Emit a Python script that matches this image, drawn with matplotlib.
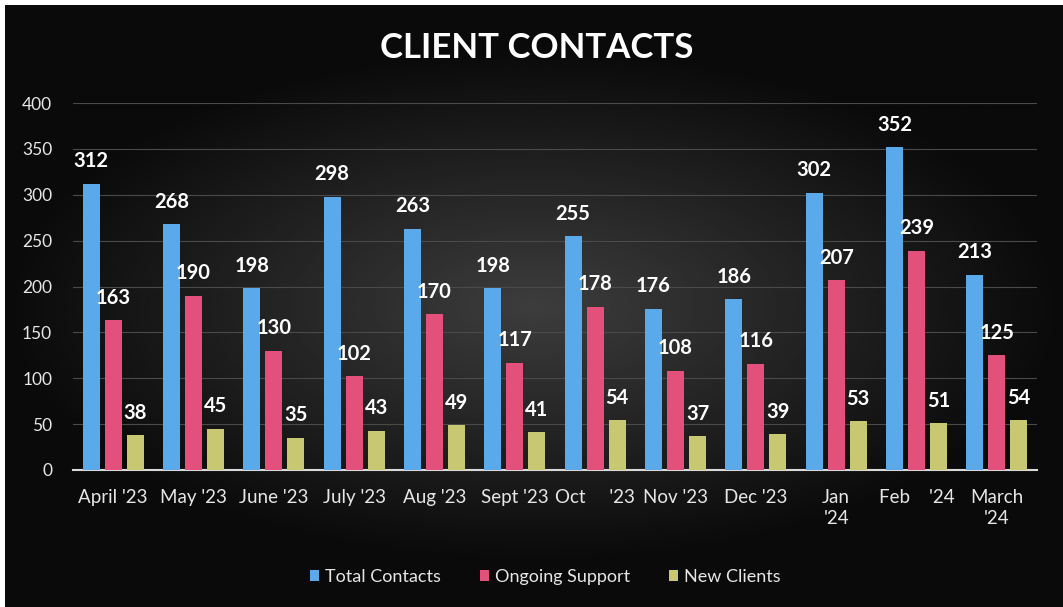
import numpy as np
import matplotlib.pyplot as plt

plt.rcParams['font.family'] = ['Lato', 'DejaVu Sans']

# ---------------------------------------------------
# data
months = ["April '23", "May '23", "June '23", "July '23", "Aug '23", "Sept '23",
          "Oct     '23", "Nov '23", "Dec '23", "Jan\n'24", "Feb    '24", "March\n'24"]
total_contacts = [312, 268, 198, 298, 263, 198, 255, 176, 186, 302, 352, 213]
ongoing_support = [163, 190, 130, 102, 170, 117, 178, 108, 116, 207, 239, 125]
new_clients = [38, 45, 35, 43, 49, 41, 54, 37, 39, 53, 51, 54]

series = [("Total Contacts", total_contacts, '#5aa9ea'),
          ("Ongoing Support", ongoing_support, '#e4507c'),
          ("New Clients", new_clients, '#c9c872')]

# ---------------------------------------------------
fig = plt.figure(figsize=(10.63, 6.07), dpi=100)
fig.patch.set_facecolor('white')

# dark background, a bit lighter in the middle
bg = fig.add_axes([5/1063, 0, 1 - 5/1063, 1 - 5/607])
yy, xx = np.mgrid[-1:1:300j, -1:1:500j]
r = np.sqrt((xx / 1.0)**2 + (yy / 0.85)**2)
shade = 0.04 + 0.2 * np.clip(1 - r, 0, 1)
bg.imshow(shade, cmap='gray', vmin=0, vmax=1, aspect='auto', extent=[0, 1, 0, 1])
bg.set_axis_off()

ax = fig.add_axes([73/1063, 1 - 470/607, 964/1063, (470 - 103)/607])
ax.set_facecolor('none')

x = np.arange(len(months))
off = 0.275
w = 0.21
for i, (name, vals, col) in enumerate(series):
    bars = ax.bar(x + (i - 1) * off, vals, w, color=col, label=name, zorder=3)
    for b, v in zip(bars, vals):
        ax.annotate(str(v), (b.get_x() + b.get_width() / 2, v), xytext=(0, 9),
                    textcoords='offset points', ha='center', va='bottom',
                    color='white', fontsize=14.5, fontweight='bold', zorder=4)

ax.set_xlim(-0.5, len(months) - 0.5)
ax.set_ylim(0, 400)
ax.set_yticks(np.arange(0, 401, 50))
ax.grid(axis='y', color='#4a4a4a', linewidth=0.8, zorder=0)
for s in ['top', 'right', 'left']:
    ax.spines[s].set_visible(False)
ax.spines['bottom'].set_color('#d9d9d9')
ax.spines['bottom'].set_linewidth(1.5)
ax.tick_params(axis='both', length=0, colors='#e6e6e6', labelsize=13.5)
ax.tick_params(axis='x', pad=14)
ax.tick_params(axis='y', pad=15, labelsize=12.5)
ax.set_xticks(x)
ax.set_xticklabels(months, va='top', linespacing=1.25)

fig.text(0.505, 1 - 48/607, 'CLIENT CONTACTS', ha='center', va='center',
         color='white', fontsize=25, fontweight='bold')

leg = fig.legend(loc='center', bbox_to_anchor=(0.513, 1 - 577/607), ncol=3,
                 frameon=False, fontsize=13, handlelength=0.5, handleheight=0.5,
                 handletextpad=0.3, columnspacing=2.2)
for t in leg.get_texts():
    t.set_color('#e6e6e6')

fig.savefig('out.png', dpi=100, facecolor=fig.get_facecolor())
